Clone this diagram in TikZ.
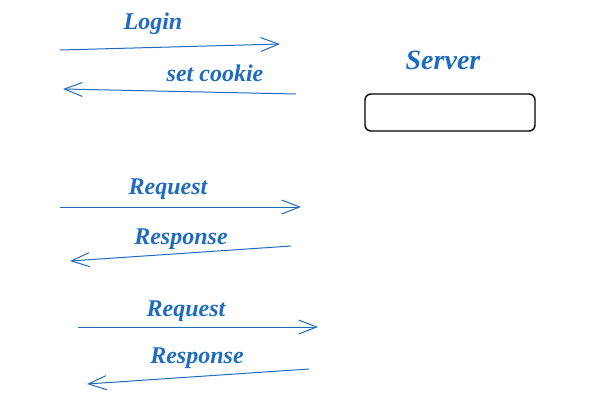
\documentclass[tikz,border=0pt]{standalone}
\usepackage{fontspec}
\setmainfont{Liberation Serif}
\usetikzlibrary{arrows.meta}
\definecolor{ink}{HTML}{1F6BBF}
\begin{document}
\begin{tikzpicture}[x=1pt,y=-1pt,
  msg/.style={draw=ink,line width=1pt,-{Straight Barb[length=18pt,width=14pt,line width=1pt]}},
  lbl/.style={text=ink,font=\itshape\bfseries\fontsize{24}{28}\selectfont,inner sep=0pt},
  box/.style={draw=black,line width=1.4pt,rounded corners=6pt,minimum width=170pt,minimum height=37pt,inner sep=0pt}]
\useasboundingbox (0,0) rectangle (600,400);
% Login / set cookie
\coordinate (a1) at (60,50);   \coordinate (b1) at (280,44);
\coordinate (a2) at (296,94);  \coordinate (b2) at (63,89);
\draw[msg] (a1) -- (b1);
\draw[msg] (a2) -- (b2);
\node[lbl] (l1) at (153,24) {Login};
\node[lbl] (l2) at (215,73) {set cookie};
% Server
\node[lbl,font=\itshape\bfseries\fontsize{28}{32}\selectfont] (ls) at (443,60) {Server};
\node[box] (srv) at (450,112.5) {};
% Request / Response 1
\coordinate (a3) at (60,207);  \coordinate (b3) at (301,207);
\coordinate (a4) at (291,246); \coordinate (b4) at (70,261);
\draw[msg] (a3) -- (b3);
\draw[msg] (a4) -- (b4);
\node[lbl] (l3) at (168,189) {Request};
\node[lbl] (l4) at (181,239) {Response};
% Request / Response 2
\coordinate (a5) at (78,327);  \coordinate (b5) at (318,327);
\coordinate (a6) at (309,369); \coordinate (b6) at (87,384);
\draw[msg] (a5) -- (b5);
\draw[msg] (a6) -- (b6);
\node[lbl] (l5) at (186,311) {Request};
\node[lbl] (l6) at (197,358) {Response};
\end{tikzpicture}
\end{document}
